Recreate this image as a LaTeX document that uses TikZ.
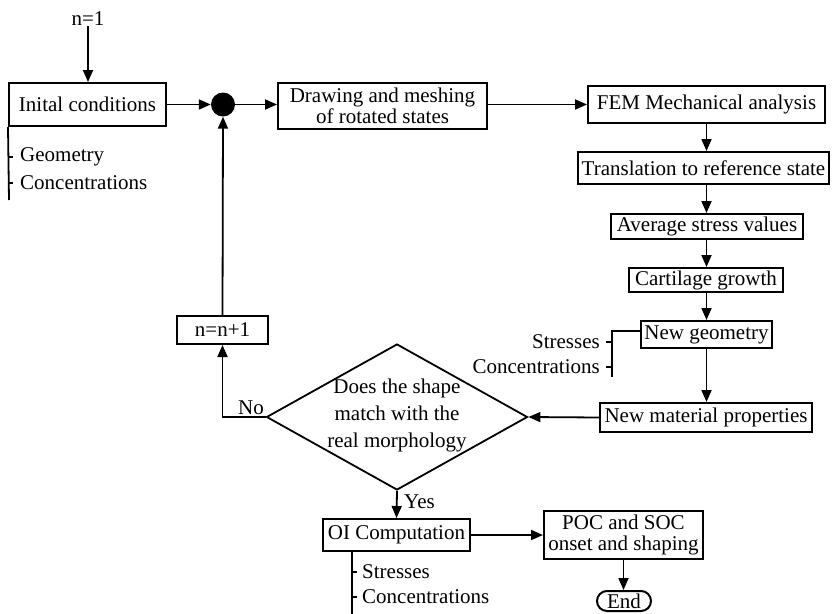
\documentclass[tikz,border=0pt]{standalone}
\usepackage{fontspec}
\setmainfont{Liberation Serif}
\usetikzlibrary{arrows.meta,shapes.geometric}
\begin{document}
\begin{tikzpicture}[x=1pt,y=-1pt,
  every node/.style={font=\fontsize{21}{21}\selectfont, inner sep=0pt},
  box/.style={draw, line width=2pt, align=center},
  conn/.style={line width=1.8pt},
  arr/.style={conn, -{Triangle[length=12pt,width=10pt]}},
  lbl/.style={}
]
\useasboundingbox (0,0) rectangle (832,613);
% nodes
\node[lbl] (n1) at (88,19) {n=1};
\node[box, minimum width=157pt, minimum height=43pt] (init) at (87.5,104.5) {Inital conditions};
\node[circle, fill=black, minimum size=24pt] (dot) at (223,104.5) {};
\node[box, minimum width=209pt, minimum height=46pt] (drw) at (382.5,106) {Drawing and meshing\\of rotated states};
\node[box, minimum width=237pt, minimum height=37pt] (fem) at (706.5,104.5) {FEM Mechanical analysis};
\node[box, minimum width=251pt, minimum height=32pt] (trans) at (703.5,168) {Translation to reference state};
\node[box, minimum width=192pt, minimum height=25pt] (avg) at (707,226.5) {Average stress values};
\node[box, minimum width=154pt, minimum height=24pt] (cart) at (706,280) {Cartilage growth};
\node[box, minimum width=131pt, minimum height=27pt] (newgeo) at (706.5,334.5) {New geometry};
\node[box, minimum width=212pt, minimum height=29pt] (newmat) at (706,417.5) {New material properties};
\node[diamond, draw, line width=1.8pt, minimum width=261pt, minimum height=146pt] (dia) at (397,417) {};
\node[align=center, font=\fontsize{21}{27}\selectfont] (diat) at (397,415) {Does the shape\\match with the\\real morphology};
\node[box, minimum width=91pt, minimum height=28pt] (nn) at (222.5,330) {n=n+1};
\node[box, minimum width=147pt, minimum height=32pt] (oi) at (396.5,535) {OI Computation};
\node[box, minimum width=159pt, minimum height=48pt] (poc) at (623.5,535) {POC and SOC\\onset and shaping};
\node[box, rounded corners=10pt, minimum width=54pt, minimum height=20pt] (endn) at (624,601) {End};
% labels
\node[anchor=south east] (no) at (264,415) {No};
\node[anchor=west] (yes) at (404,502) {Yes};
\node[anchor=west] (g1) at (20,157) {Geometry};
\node[anchor=west] (c1) at (20,183) {Concentrations};
\node[anchor=east] (s2) at (600,342) {Stresses};
\node[anchor=east] (c2) at (600,367) {Concentrations};
\node[anchor=west] (s3) at (362,572) {Stresses};
\node[anchor=west] (c3) at (362,597) {Concentrations};
\coordinate (b1end) at (9,200);
\coordinate (b2top) at (612,331);
\coordinate (b2end) at (612,377);
\coordinate (b3end) at (352,620);
% connectors
\draw[arr] (n1.south) -- (n1.south |- init.north);
\draw[arr] (init.east) -- (dot.west);
\draw[arr] (dot.east) -- (dot -| drw.west);
\draw[arr] (drw.east |- fem.west) -- (fem.west);
\draw[arr] (fem.south) -- (fem.south |- trans.north);
\draw[arr] (fem.south |- trans.south) -- (fem.south |- avg.north);
\draw[arr] (fem.south |- avg.south) -- (fem.south |- cart.north);
\draw[arr] (fem.south |- cart.south) -- (fem.south |- newgeo.north);
\draw[arr] (fem.south |- newgeo.south) -- (fem.south |- newmat.north);
\draw[arr] (newmat.west) -- (dia.east);
\draw[arr] (dia.west) -- (nn.south |- dia.west) -- (nn.south);
\draw[arr] (nn.north) -- (dot.south);
\draw[arr] (dia.south) -- (oi.north);
\draw[arr] (oi.east) -- (poc.west);
\draw[arr] (poc.south) -- (poc.south |- endn.north);
% side brackets
\draw[conn] (init.south west) -- (b1end);
\draw[conn] (9,157) -- (13,157);
\draw[conn] (9,183) -- (13,183);
\draw[conn] (newgeo.west |- b2top) -- (b2top) -- (b2end);
\draw[conn] (612,342) -- (606,342);
\draw[conn] (612,367) -- (606,367);
\draw[conn] (oi.south -| b3end) -- (b3end);
\draw[conn] (352,572) -- (357,572);
\draw[conn] (352,597) -- (357,597);
\end{tikzpicture}
\end{document}
